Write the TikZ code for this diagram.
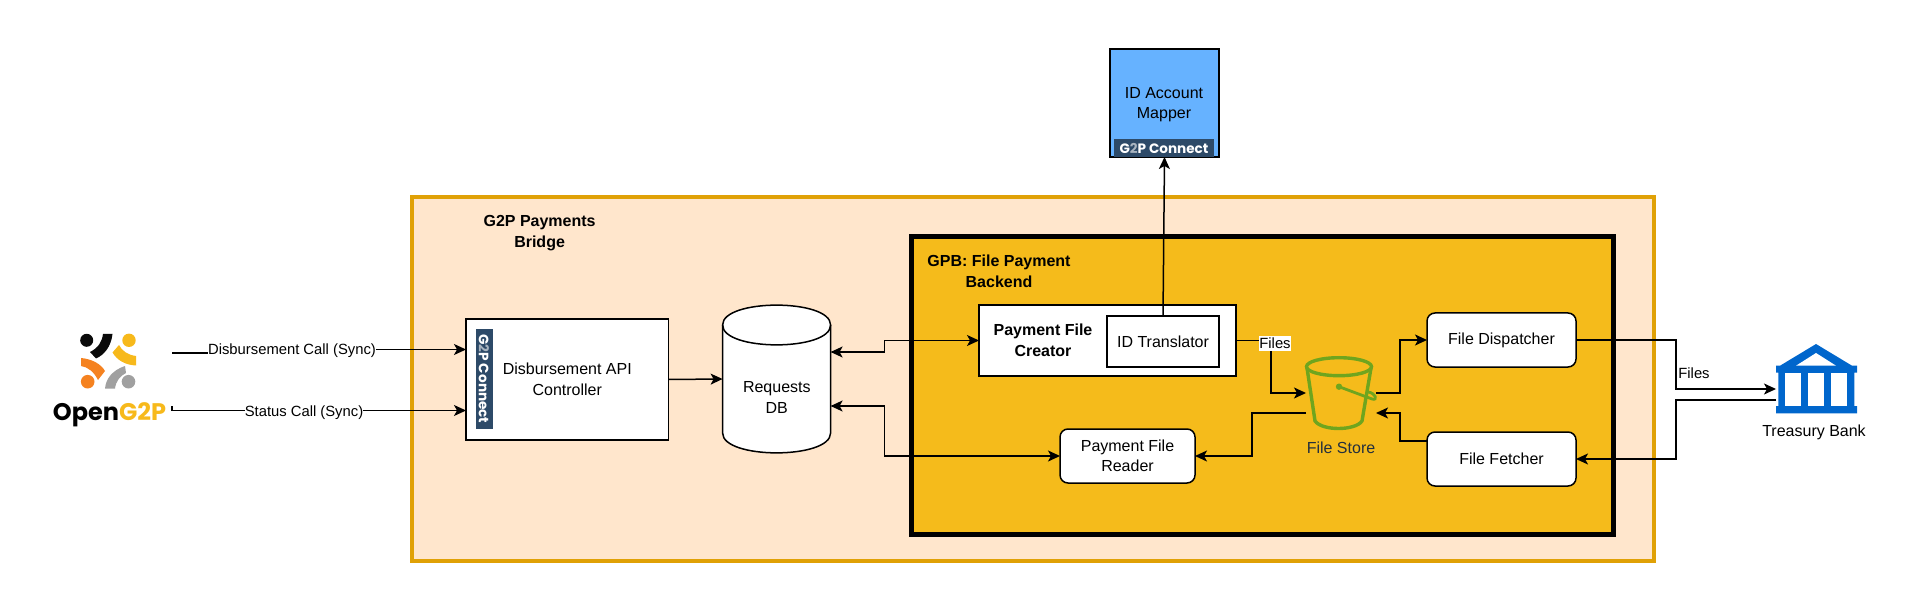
\documentclass[tikz,border=0pt]{standalone}
\usepackage{fontspec}
\setmainfont{Liberation Sans}
\newfontfamily\poppinsfont{Poppins}
\usetikzlibrary{arrows.meta}
\definecolor{bridgefill}{HTML}{FFE6CC}
\definecolor{bridgeline}{HTML}{E0A106}
\definecolor{gpbfill}{HTML}{F5BB1B}
\definecolor{mapperfill}{HTML}{66B2FF}
\definecolor{badgeblue}{HTML}{2D4A68}
\definecolor{badgegrey}{HTML}{A9B4BF}
\definecolor{bucketgreen}{HTML}{6FA51E}
\definecolor{bankblue}{HTML}{0066CC}
\definecolor{storetext}{HTML}{232F3E}
\definecolor{logoyellow}{HTML}{F7B91B}
\definecolor{logoorange}{HTML}{F58220}
\definecolor{logogrey}{HTML}{A0A0A0}
\definecolor{logoblack}{HTML}{0A0A0A}
\newcommand{\lblfont}{\fontsize{8}{10.25}\selectfont}
\tikzset{
    box/.style = {draw, fill = white, inner sep = 0pt, outer sep = 0pt, align = center, font = \lblfont},
    roundbox/.style = {box, rounded corners = 4pt},
    lbl/.style = {inner sep = 0pt, outer sep = 0pt, align = center, font = \lblfont},
    linklbl/.style = {lbl, font = \fontsize{7.4}{9}\selectfont},
    boldlbl/.style = {lbl, font = \lblfont\bfseries},
    badge/.style = {fill = badgeblue, text = white, inner sep = 0pt, outer sep = 0pt, font = \poppinsfont\bfseries\fontsize{6.8}{7}\selectfont},
    flow/.style = {-{Stealth[length = 6pt, width = 5.5pt, inset = 1.5pt]}},
    bothflow/.style = {{Stealth[length = 6pt, width = 5.5pt, inset = 1.5pt]}-{Stealth[length = 6pt, width = 5.5pt, inset = 1.5pt]}}
}
\begin{document}
\begin{tikzpicture}[x = 0.5pt, y = -0.5pt, line width = 0.75pt]
    \useasboundingbox (0,0) rectangle (1920,614);
    % containers
    \draw[fill = bridgefill, draw = bridgeline, line width = 2pt] (411.5,197) rectangle (1654,561);
    \draw[fill = gpbfill, line width = 2.5pt] (911.5,237) rectangle (1613,534);
    \node[boldlbl] (bridgetitle) at (539.6,233) {G2P Payments\\Bridge};
    \node[boldlbl] (gpbtitle) at (999,271.5) {GPB: File Payment\\Backend};
    % boxes
    \node[box, fill = mapperfill, minimum width = 54.5pt, minimum height = 54pt] (mapper) at (1164.5,103) {};
    \node[lbl] (mapperlbl) at (1164,104.5) {ID Account\\Mapper};
    \node[badge, minimum width = 50pt, minimum height = 9pt] (mapperbadge) at (1164,148) {G{\color{badgegrey}2}P Connect};
    \node[box, minimum width = 101.3pt, minimum height = 60.5pt] (api) at (567.3,379.5) {Disbursement API\\Controller};
    \node[badge, rotate = -90, minimum width = 50pt, minimum height = 8.5pt] (apibadge) at (484,379) {G{\color{badgegrey}2}P Connect};
    \node[inner sep = 0pt, outer sep = 0pt, minimum width = 54pt, minimum height = 74pt] (reqdb) at (776.6,379) {};
    \draw[fill = white] (722.6,325) .. controls (722.6,298.5) and (830.6,298.5) .. (830.6,325) -- (830.6,433) .. controls (830.6,459.5) and (722.6,459.5) .. (722.6,433) -- cycle;
    \draw (722.6,325) .. controls (722.6,351.5) and (830.6,351.5) .. (830.6,325);
    \node[lbl] (reqlbl) at (776.8,397.5) {Requests\\DB};
    \node[box, minimum width = 128.5pt, minimum height = 35.5pt] (creator) at (1107.5,340.5) {};
    \node[boldlbl] (creatorlbl) at (1043,340.5) {Payment File\\Creator};
    \node[box, minimum width = 56pt, minimum height = 25.5pt] (idtr) at (1163,341.5) {ID Translator};
    \node[roundbox, minimum width = 67.5pt, minimum height = 27pt] (reader) at (1127.5,456) {Payment File\\Reader};
    \node[roundbox, minimum width = 74.5pt, minimum height = 27pt] (dispatch) at (1501.5,340) {File Dispatcher};
    \node[roundbox, minimum width = 74.5pt, minimum height = 27pt] (fetch) at (1501.5,459) {File Fetcher};
    % file store bucket
    \node[minimum width = 35pt, minimum height = 35pt, inner sep = 0pt, outer sep = 0pt] (store) at (1341,393) {};
    \draw[bucketgreen, line width = 1.7pt] (1339,366.7) ellipse (32.5 and 9);
    \draw[bucketgreen, line width = 1.7pt] (1307,368) -- (1315,421) .. controls (1322,431) and (1355,431) .. (1362,421) -- (1371,368);
    \draw[bucketgreen, line width = 1.4pt] (1339,386.7) -- (1372,399) .. controls (1378,401) and (1376,393) .. (1368,392);
    \fill[bucketgreen] (1339,386.7) circle (3.2);
    \node[lbl, text = storetext] (storelbl) at (1341,448) {File Store};
    % treasury bank icon
    \node[minimum width = 40.5pt, minimum height = 35pt, inner sep = 0pt, outer sep = 0pt] (bank) at (1816.5,379) {};
    \fill[bankblue] (1816,344) -- (1852,365.7) -- (1857,365.7) -- (1857,372.7) -- (1854.3,372.7) -- (1854.3,406) -- (1857,406) -- (1857,413.3) -- (1776,413.3) -- (1776,406) -- (1778.3,406) -- (1778.3,372.7) -- (1776,372.7) -- (1776,365.7) -- (1780,365.7) -- cycle;
    \fill[white] (1796,365.7) -- (1816,353) -- (1836,365.7) -- cycle;
    \foreach \winx in {1785.3,1808.3,1831}
        \fill[white] (\winx,372.7) rectangle ++(16,33.3);
    \node[lbl] (banklbl) at (1814,432) {Treasury Bank};
    % opengtwop logo
    \fill[logoblack] (86.7,340.3) circle (6.5);
    \fill[logoblack] (103,334) -- (112.5,334) .. controls (111,347) and (104,355) .. (96,358.5) -- (90,352) .. controls (98,348) and (102,342) .. (103,334) -- cycle;
    \fill[logoyellow] (129,340.3) circle (6.7);
    \fill[logoyellow] (119,345) .. controls (122,351) and (128,355) .. (136,356) -- (136,365.5) .. controls (125,365) and (117,360) .. (112.5,352.5) -- cycle;
    \fill[logoorange] (81,358) .. controls (92,359) and (101,364) .. (105,371) -- (98,380) .. controls (94,372) and (88,367) .. (81,366) -- cycle;
    \fill[logoorange] (87.7,381.7) circle (6.8);
    \fill[logogrey] (105,388.5) .. controls (106,378) and (113,370) .. (125,366) -- (126,373) .. controls (120,376) and (116,381) .. (115,388.5) -- cycle;
    \fill[logogrey] (128.5,381.7) circle (6.8);
    \node[inner sep = 0pt, outer sep = 0pt, font = \poppinsfont\bfseries\fontsize{12}{14}\selectfont] (logotext) at (109.5,415) {Open\textcolor{logoyellow}{G2P}};
    % connector ends
    \coordinate (logoa) at (172,353);
    \coordinate (logob) at (172,406);
    \coordinate (apia) at ([yshift = 15pt]api.west);
    \coordinate (apib) at ([yshift = -15.5pt]api.west);
    \coordinate (banka) at ([yshift = -5pt]bank.west);
    \coordinate (bankb) at ([yshift = -10.5pt]bank.west);
    \node[linklbl] (calla) at (292,351) {Disbursement Call (Sync)};
    \node[linklbl] (callb) at (304,413) {Status Call (Sync)};
    % connectors
    \draw (logoa) -- (calla.west |- logoa);
    \draw[flow] (calla.east |- apia) -- (apia);
    \draw (logob) |- (callb.west |- apib);
    \draw[flow] (callb.east |- apib) -- (apib);
    \draw[flow] (api.east) -- (reqdb.west);
    \draw[bothflow] ([yshift = 13.5pt]reqdb.east) -- ++(54,0) |- (creator.west);
    \draw[bothflow] ([yshift = -13.5pt]reqdb.east) -- ++(54,0) |- (reader.west);
    \draw[flow] (idtr.north) -- (mapper.south);
    \draw[flow] (creator.east) -- ++(35,0) |- (store.west);
    \node[linklbl, fill = white, inner xsep = 0.3pt, inner ysep = 1pt] (fileslbla) at (1275,343.5) {Files};
    \draw[flow] (store.east) -- ++(24,0) |- (dispatch.west);
    \draw[flow] ([yshift = 9pt]fetch.west) -- ++(-27,0) |- ([yshift = -10pt]store.east);
    \draw[flow] ([yshift = -10pt]store.west) -- ++(-54,0) |- (reader.east);
    \draw[flow] (dispatch.east) -- ++(100,0) |- (banka);
    \draw[flow] (bankb) -- ++(-100,0) |- (fetch.east);
    \node[linklbl] (fileslblb) at (1694,373) {Files};
\end{tikzpicture}
\end{document}
